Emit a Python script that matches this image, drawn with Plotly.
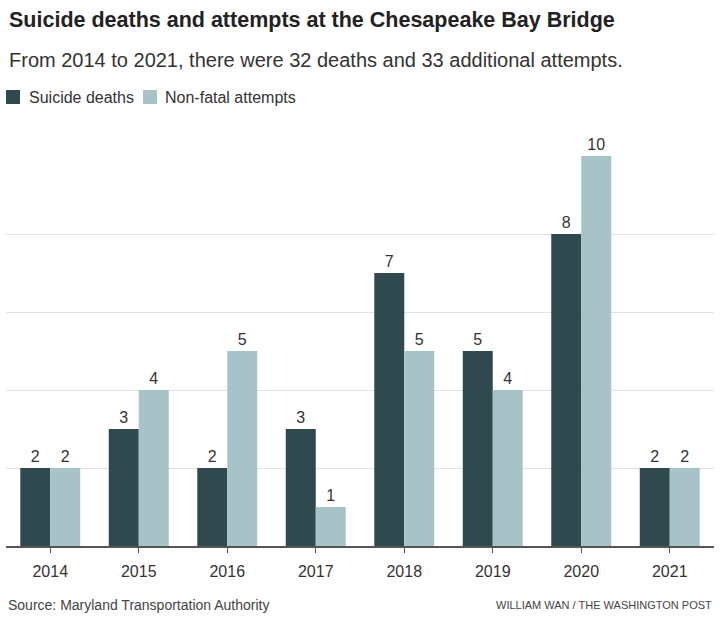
import plotly.graph_objects as go

years = ["2014", "2015", "2016", "2017", "2018", "2019", "2020", "2021"]
deaths = [2, 3, 2, 3, 7, 5, 8, 2]
attempts = [2, 4, 5, 1, 5, 4, 10, 2]
y_ticks = [0, 2, 4, 6, 8, 10]
series_names = ["Suicide deaths", "Non-fatal attempts"]

DARK = "#2f494e"
LIGHT = "#a7c3c8"
FONT = "Liberation Sans"

fig = go.Figure()
fig.add_trace(go.Bar(x=years, y=deaths, name=series_names[0], marker_color=DARK,
                     marker_line_width=0, text=deaths, textposition="outside",
                     textfont=dict(size=16, color="#333"), cliponaxis=False))
fig.add_trace(go.Bar(x=years, y=attempts, name=series_names[1], marker_color=LIGHT,
                     marker_line_width=0, text=attempts, textposition="outside",
                     textfont=dict(size=16, color="#333"), cliponaxis=False))

W, H = 720, 621
l, r, t, b = 6, 6, 156, 75
pw, ph = W - l - r, H - t - b

def px_x(x):
    return (x - l) / pw

def px_y(y):
    return (H - b - y) / ph

# manual legend (squares + labels)
legend_items = [(DARK, 6, 27, series_names[0]), (LIGHT, 143, 163, series_names[1])]
shapes = []
legend_ann = []
for color, sx, tx, name in legend_items:
    shapes.append(dict(type="rect", xref="paper", yref="paper",
                       x0=px_x(sx), x1=px_x(sx + 14), y0=px_y(104), y1=px_y(90),
                       fillcolor=color, line=dict(width=0)))
    legend_ann.append(dict(text=name, x=px_x(tx), y=px_y(97), xref="paper", yref="paper",
                           showarrow=False, xanchor="left", yanchor="middle",
                           font=dict(size=16, color="#333")))

fig.update_layout(
    width=W, height=H,
    margin=dict(l=l, r=r, t=t, b=b),
    paper_bgcolor="white", plot_bgcolor="white",
    barmode="group", bargap=0.3226, bargroupgap=0,
    font=dict(family=FONT, color="#333"),
    showlegend=False,
    xaxis=dict(type="category", showline=True, linecolor="#555", linewidth=2,
               ticks="outside", ticklen=5, tickcolor="#555", tickwidth=1,
               ticklabelstandoff=5,
               tickfont=dict(size=16, color="#333"), showgrid=False, fixedrange=True),
    yaxis=dict(range=[0, 10], tickvals=y_ticks, showticklabels=False,
               showgrid=True, gridcolor="#e3e3e3", gridwidth=1,
               zeroline=False, fixedrange=True),
    shapes=shapes,
    annotations=[
        dict(text="<b>Suicide deaths and attempts at the Chesapeake Bay Bridge</b>",
             x=px_x(7), y=px_y(20), xref="paper", yref="paper", xanchor="left", yanchor="middle",
             showarrow=False, font=dict(size=21.5, color="#222")),
        dict(text="From 2014 to 2021, there were 32 deaths and 33 additional attempts.",
             x=px_x(7), y=px_y(60), xref="paper", yref="paper", showarrow=False,
             xanchor="left", yanchor="middle", font=dict(size=20, color="#333")),
        dict(text="Source: Maryland Transportation Authority",
             x=px_x(6), y=px_y(605), xref="paper", yref="paper", showarrow=False,
             xanchor="left", yanchor="middle", font=dict(size=14, color="#444")),
        dict(text="WILLIAM WAN / THE WASHINGTON POST",
             x=px_x(714), y=px_y(605), xref="paper", yref="paper", showarrow=False,
             xanchor="right", yanchor="middle", font=dict(size=11, color="#444")),
    ] + legend_ann,
)

fig.write_html("out.html")
